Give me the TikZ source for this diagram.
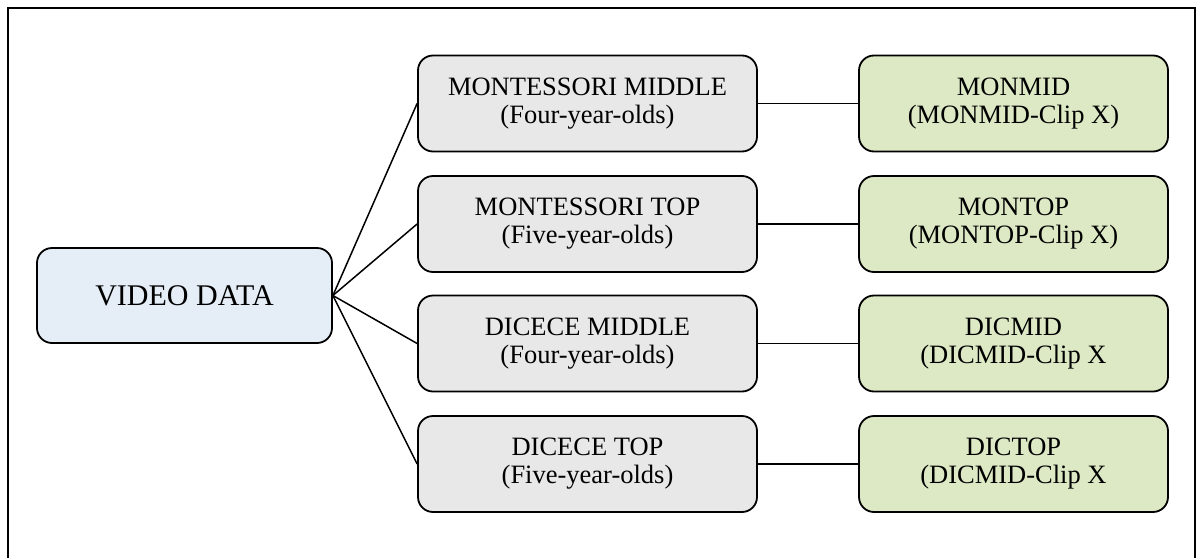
\documentclass[tikz,border=0pt]{standalone}
\usepackage{fontspec}
\setmainfont{Liberation Serif}
\definecolor{boxgray}{HTML}{E8E8E8}
\definecolor{boxblue}{HTML}{E5EDF7}
\definecolor{boxgreen}{HTML}{DCE9C4}
\begin{document}
\begin{tikzpicture}[x=1pt,y=-1pt,
  base/.style={draw=black, line width=1.8pt, rounded corners=15pt, align=center,
    inner sep=0pt, font=\fontsize{26.5}{28}\selectfont},
  srcbox/.style={base, fill=boxblue, minimum width=295pt, minimum height=95pt,
    font=\fontsize{30}{32}\selectfont},
  midbox/.style={base, fill=boxgray, minimum width=339pt, minimum height=96pt},
  clipbox/.style={base, fill=boxgreen, minimum width=309pt, minimum height=96pt},
  link/.style={line width=1.5pt}]
\clip (0,0) rectangle (1201,557);
\draw[line width=2.2pt] (8,8) rectangle (1195,620);
\node[srcbox] (vd) at (184.5,295.5) {VIDEO DATA};
\node[midbox] (m1) at (587.5,103.5) {MONTESSORI MIDDLE\\(Four-year-olds)};
\node[midbox] (m2) at (587.5,224) {MONTESSORI TOP\\(Five-year-olds)};
\node[midbox] (m3) at (587.5,343.5) {DICECE MIDDLE\\(Four-year-olds)};
\node[midbox] (m4) at (587.5,464) {DICECE TOP\\(Five-year-olds)};
\node[clipbox] (g1) at (1013.5,103.5) {MONMID\\(MONMID-Clip X)};
\node[clipbox] (g2) at (1013.5,224) {MONTOP\\(MONTOP-Clip X)};
\node[clipbox] (g3) at (1013.5,343.5) {DICMID\\(DICMID-Clip X};
\node[clipbox] (g4) at (1013.5,464) {DICTOP\\(DICMID-Clip X};
\foreach \i in {1,2,3,4} {
  \draw[link] (vd.east) -- (m\i.west);
  \draw[link] (m\i.east) -- (g\i.west);
}
\end{tikzpicture}
\end{document}
